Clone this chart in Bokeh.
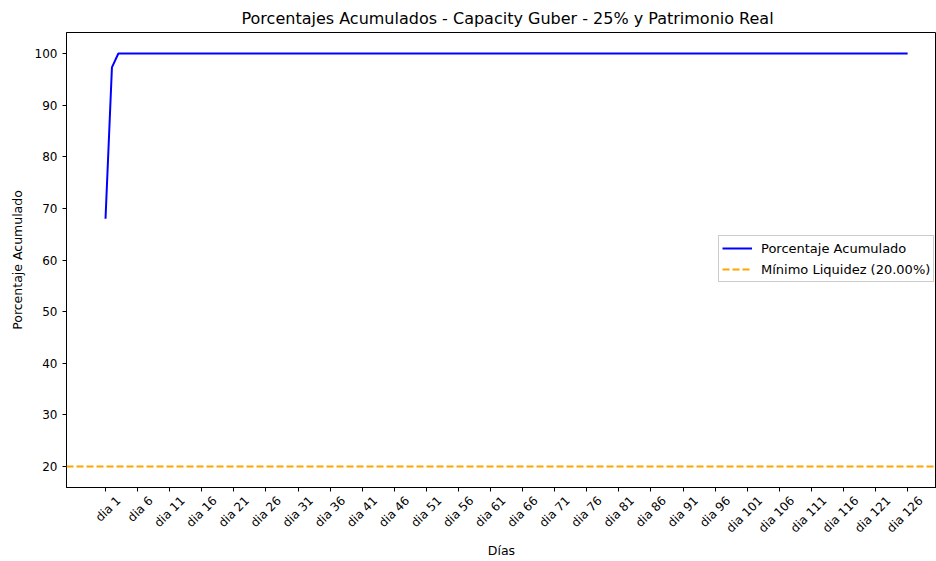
import math
from bokeh.plotting import figure
from bokeh.models import Span, Legend, LegendItem, FixedTicker, Range1d, LinearAxis
from bokeh.embed import file_html
from bokeh.resources import INLINE

days = list(range(1, 127))
acumulado = [68.0, 97.3] + [100.0] * 124
minimo_liquidez = 20.0
tick_days = list(range(1, 127, 5))
tick_labels = {d: f"dia {d}" for d in tick_days}
y_ticks = [20, 30, 40, 50, 60, 70, 80, 90, 100]

FONT = "DejaVu Sans"
X_START, X_END = -5.08, 130.5
LABEL_SHIFT = 2.05  # days: moves rotated labels so they are centred on the ticks

p = figure(width=936, height=561, output_backend="svg", toolbar_location=None,
           title="Porcentajes Acumulados - Capacity Guber - 25% y Patrimonio Real",
           x_range=Range1d(X_START, X_END), y_range=Range1d(15.93, 104.07),
           x_axis_location=None,
           min_border_left=66, min_border_right=0, min_border_top=32, min_border_bottom=74)

p.title.align = "left"
p.title.offset = 175
p.title.text_font = FONT
p.title.text_font_size = "16px"
p.title.text_font_style = "normal"
p.title.text_color = "black"

p.xgrid.visible = False
p.ygrid.visible = False
p.outline_line_color = "black"
p.outline_line_width = 1
p.outline_line_alpha = 1

r1 = p.line(days, acumulado, line_color="#0000FF", line_width=2)
span = Span(location=minimo_liquidez, dimension="width", line_color="#FFA500",
            line_width=2, line_dash="7 3")
p.add_layout(span)
r2 = p.line([days[0], days[-1]], [minimo_liquidez, minimo_liquidez], line_color="#FFA500",
            line_width=2, line_dash="7 3", visible=False)

legend = Legend(items=[LegendItem(label="Porcentaje Acumulado", renderers=[r1]),
                       LegendItem(label="Mínimo Liquidez (20.00%)", renderers=[r2])],
                location=(652, 205))
legend.label_text_font = FONT
legend.label_text_font_size = "13px"
legend.label_text_color = "black"
legend.border_line_color = "#cccccc"
legend.border_line_alpha = 1
legend.glyph_width = 30
legend.glyph_height = 18
legend.label_height = 18
legend.label_standoff = 9
legend.spacing = 3
legend.padding = 3
legend.margin = 0
p.add_layout(legend)


def style(ax):
    ax.major_label_text_font = FONT
    ax.major_label_text_font_size = "12px"
    ax.major_label_text_color = "black"
    ax.axis_label_text_font = FONT
    ax.axis_label_text_font_size = "12.5px"
    ax.axis_label_text_font_style = "normal"
    ax.axis_label_text_color = "black"
    ax.axis_line_color = "black"
    ax.major_tick_line_color = "black"
    ax.major_tick_out = 4
    ax.major_tick_in = 0
    ax.minor_tick_line_color = None


style(p.yaxis[0])
p.yaxis.axis_label = "Porcentaje Acumulado"
p.yaxis.ticker = FixedTicker(ticks=y_ticks)
p.yaxis.major_label_standoff = 5
p.yaxis.axis_label_standoff = 7

# x axis 1: line and tick marks
x_ticks_axis = LinearAxis(ticker=FixedTicker(ticks=tick_days))
style(x_ticks_axis)
x_ticks_axis.major_label_text_alpha = 0
x_ticks_axis.major_label_text_font_size = "1px"
x_ticks_axis.major_label_standoff = 0
x_ticks_axis.major_label_overrides = {d: "" for d in tick_days}
p.add_layout(x_ticks_axis, "below")

# x axis 2: rotated tick labels and axis title
p.extra_x_ranges = {"labels": Range1d(X_START - LABEL_SHIFT, X_END - LABEL_SHIFT)}
x_labels_axis = LinearAxis(x_range_name="labels", ticker=FixedTicker(ticks=tick_days),
                           axis_label="Días")
style(x_labels_axis)
x_labels_axis.axis_line_color = None
x_labels_axis.major_tick_line_color = None
x_labels_axis.major_tick_out = 0
x_labels_axis.major_label_overrides = tick_labels
x_labels_axis.major_label_orientation = math.pi / 4
x_labels_axis.major_label_standoff = 7
x_labels_axis.axis_label_standoff = 0
p.add_layout(x_labels_axis, "below")

open("out.html", "w").write(file_html(p, INLINE))
